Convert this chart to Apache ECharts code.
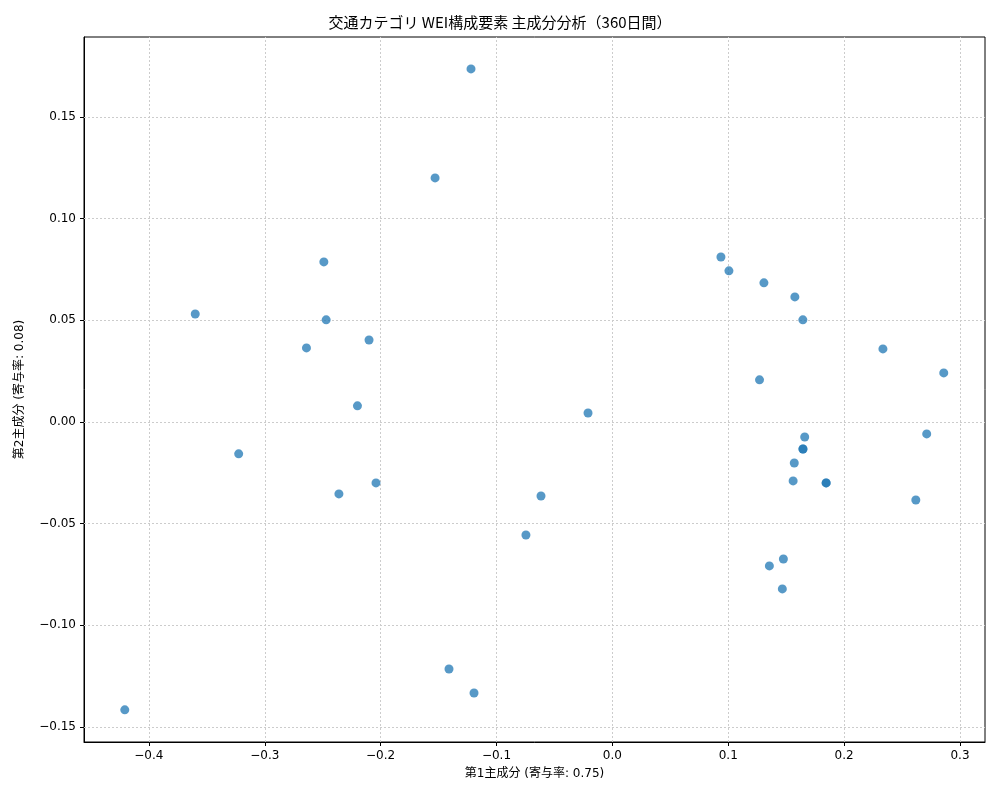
<!DOCTYPE html>
<html><head><meta charset="utf-8">
<script src="https://cdn.jsdelivr.net/npm/echarts@6/dist/echarts.min.js"></script>
<style>html,body{margin:0;padding:0;background:#fff}#c{width:1000px;height:800px}</style>
</head><body><div id="c"></div>
<script>
const pc1 = [-0.122,-0.153,-0.249,-0.360,-0.247,-0.264,-0.210,-0.220,-0.3225,-0.236,-0.204,-0.021,-0.0616,-0.0746,-0.141,-0.1194,-0.4208,0.0937,0.1006,0.1308,0.1575,0.1644,0.2335,0.286,0.127,0.166,0.1645,0.1645,0.2713,0.157,0.156,0.1845,0.1845,0.2619,0.1476,0.1355,0.1467];
const pc2 = [0.1736,0.120,0.0787,0.0531,0.0502,0.0364,0.0403,0.0079,-0.0157,-0.0354,-0.030,0.0044,-0.0364,-0.0556,-0.1215,-0.1333,-0.1416,0.0811,0.0743,0.0684,0.0615,0.0502,0.0359,0.0241,0.0207,-0.0074,-0.0133,-0.0133,-0.0059,-0.0202,-0.029,-0.030,-0.030,-0.0384,-0.0674,-0.0708,-0.0821];
const xTicks = [-0.4,-0.3,-0.2,-0.1,0.0,0.1,0.2,0.3];
const yTicks = [-0.15,-0.10,-0.05,0.00,0.05,0.10,0.15];
const title = '交通カテゴリ WEI構成要素 主成分分析（360日間）';
const xName = '第1主成分 (寄与率: 0.75)';
const yName = '第2主成分 (寄与率: 0.08)';
const font = '"DejaVu Sans","Noto Sans CJK JP",sans-serif';
const ch = echarts.init(document.getElementById('c'));
function axis(min,max,ticks,dec,name,gap){
  return {type:'value',min:min,max:max,name:name,nameGap:gap,nameLocation:'middle',
    nameTextStyle:{color:'#000',fontSize:12,fontFamily:font},
    axisLine:{onZero:false,lineStyle:{color:'#000'}},
    axisTick:{length:4,lineStyle:{color:'#000'},customValues:ticks},
    axisLabel:{color:'#000',fontSize:12,fontFamily:font,customValues:ticks,
      formatter:v=>(v<-1e-9?'−':'')+Math.abs(v).toFixed(dec)},
    splitLine:{show:false}};
}
const gridLines = [
  ...xTicks.map(v=>({xAxis:v})),
  ...yTicks.map(v=>({yAxis:v}))
];
const xa = axis(-0.456,0.3216,xTicks,1,xName,26);
const ya = axis(-0.1574,0.1893,yTicks,2,yName,58);
ch.setOption({
  animation:false,
  title:{text:title,left:'center',top:10,textStyle:{fontSize:15,fontWeight:'normal',color:'#000',fontFamily:'"Noto Sans CJK JP",sans-serif'}},
  grid:{left:84,right:15,top:37,bottom:58,show:true,borderColor:'#000',borderWidth:1},
  xAxis:xa, yAxis:ya,
  series:[{type:'scatter',symbolSize:9,data:pc1.map((x,i)=>[x,pc2[i]]),z:3,
    itemStyle:{color:'#1f77b4',opacity:0.75},
    markLine:{silent:true,symbol:'none',label:{show:false},z:1,
      lineStyle:{color:'#ccc',type:[2,2],width:1},data:gridLines}}]
});
</script></body></html>
